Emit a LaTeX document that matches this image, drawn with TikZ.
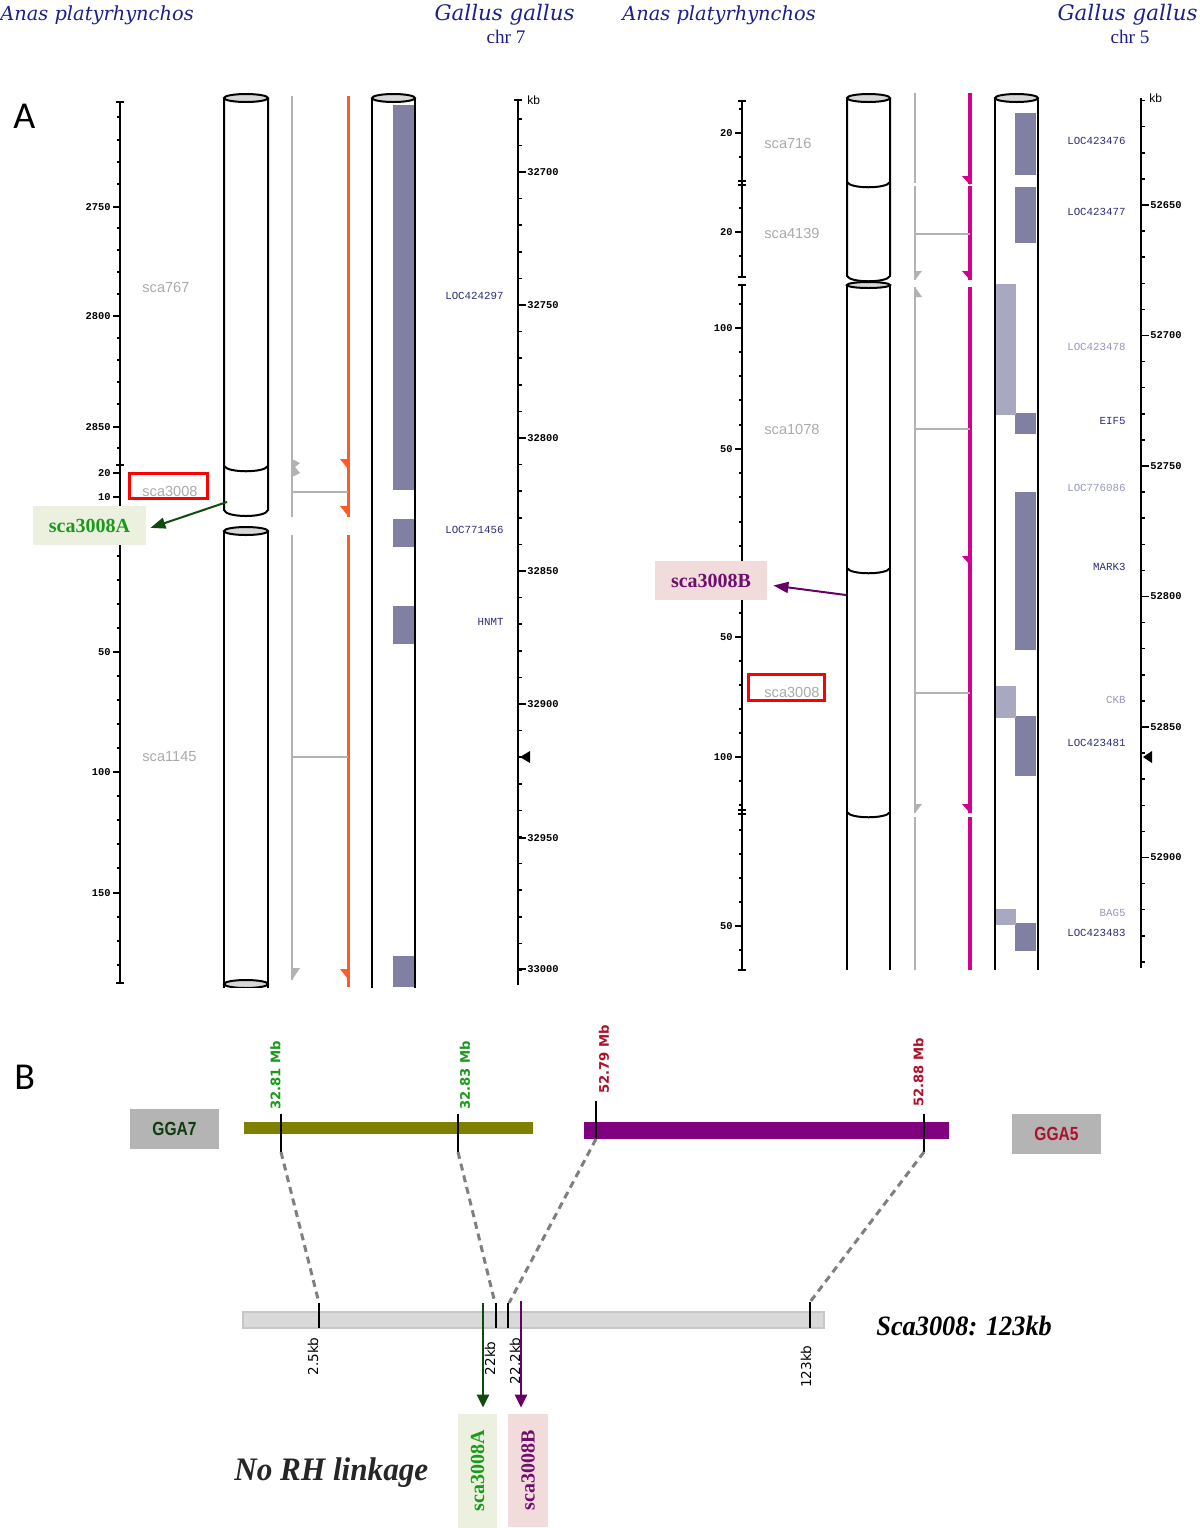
\documentclass[tikz,border=0pt]{standalone}
\usepackage{fontspec}
\setmainfont{Liberation Serif}
\setsansfont{Liberation Sans}
\setmonofont{Liberation Mono}
\newfontfamily\djserif{DejaVu Serif}
\newfontfamily\djsans{DejaVu Sans}
\newfontfamily\carlito{Carlito}
\usetikzlibrary{arrows.meta,calc}
\definecolor{navy}{RGB}{28,32,140}
\definecolor{genedark}{RGB}{45,45,120}
\definecolor{genelight}{RGB}{150,150,190}
\definecolor{filldark}{RGB}{128,128,162}
\definecolor{filllight}{RGB}{168,168,192}
\definecolor{orangeline}{RGB}{255,90,40}
\definecolor{magline}{RGB}{210,0,140}
\definecolor{grayline}{RGB}{178,178,178}
\definecolor{scagray}{RGB}{170,170,170}
\definecolor{capgray}{RGB}{215,215,215}
\definecolor{olivebar}{RGB}{128,128,0}
\definecolor{purplebar}{RGB}{128,0,128}
\definecolor{ggagray}{RGB}{180,180,180}
\definecolor{ggagreen}{RGB}{15,60,15}
\definecolor{crimson}{RGB}{176,16,42}
\definecolor{mbgreen}{RGB}{26,154,26}
\definecolor{boxgreen}{RGB}{235,241,222}
\definecolor{boxpink}{RGB}{242,220,219}
\definecolor{darkgreen}{RGB}{15,75,15}
\definecolor{darkpurple}{RGB}{102,0,102}
\definecolor{txtpurple}{RGB}{110,15,110}
\definecolor{dashgray}{RGB}{127,127,127}
\definecolor{scabar}{RGB}{217,217,217}
\begin{document}
\begin{tikzpicture}[x=0.5pt,y=-0.5pt,
  rul/.style={line width=0.75pt},
  cyl/.style={line width=1pt},
  rlab/.style={font=\ttfamily\bfseries\fontsize{5.2}{6}\selectfont,inner sep=0pt},
  glab/.style={font=\ttfamily\fontsize{5.4}{6}\selectfont,inner sep=0pt,anchor=east},
  slab/.style={font=\sffamily\fontsize{7.3}{8}\selectfont,text=scagray,inner sep=0pt,anchor=west},
  titleA/.style={font=\djserif\itshape\fontsize{9.7}{11}\selectfont,text=navy,inner sep=0pt},
  titleG/.style={font=\djserif\itshape\fontsize{10.7}{12}\selectfont,text=navy,inner sep=0pt},
  chrlab/.style={font=\fontsize{9.6}{11}\selectfont,text=navy,inner sep=0pt},
  panel/.style={font=\carlito\fontsize{19}{22}\selectfont,inner sep=0pt},
  redbox/.style={draw=red,line width=1.5pt},
  grayL/.style={grayline,line width=1.4pt},
  orL/.style={orangeline,line width=1.5pt},
  magL/.style={magline,line width=1.7pt},
  conn/.style={grayline,line width=0.8pt},
  lblbox/.style={font=\bfseries\fontsize{10}{12}\selectfont,minimum height=19.5pt,inner sep=0pt},
  gga/.style={fill=ggagray,minimum width=44.5pt,minimum height=20pt,inner sep=0pt,font=\sffamily\bfseries\fontsize{9.5}{11}\selectfont},
  mb/.style={font=\djsans\bfseries\fontsize{6.6}{8}\selectfont,inner sep=0pt,rotate=90,anchor=west},
  kbl/.style={font=\djsans\fontsize{6.8}{8}\selectfont,inner sep=0pt,rotate=90,anchor=east},
  dashc/.style={dashgray,line width=1.5pt,dash pattern=on 3.5pt off 2.5pt},
  tk/.style={line width=0.6pt}
]
\useasboundingbox (0,0) rectangle (1200,1528);

% ---------------- titles
\node[titleA,anchor=base west] (tA1) at (0,20) {Anas platyrhynchos};
\node[titleG,anchor=base east] (tG1) at (575,20) {Gallus gallus};
\node[chrlab,anchor=base] (c7) at (506,43) {chr 7};
\node[titleA,anchor=base west] (tA2) at (622,20) {Anas platyrhynchos};
\node[titleG,anchor=base east] (tG2) at (1198,20) {Gallus gallus};
\node[chrlab,anchor=base] (c5) at (1130,43) {chr 5};
\node[panel,anchor=base west] (pA) at (13,128) {A};

% ---------------- left duck ruler (chr7 side)
\draw[rul] (120,102) -- (120,983);
\foreach \y in {102,465,983} \draw[rul] (116,\y) -- (124,\y);
\foreach \y in {117,140,162,184,228,250,272,294,338,360,382,404,448,521,532,556,580,604,628,676,700,724,748,796,820,844,868,917,941,965}
  \draw[rul] (117,\y) -- (120,\y);
\foreach \y/\t [count=\i] in {207/2750,316/2800,427/2850,473/20,497/10,652/50,772/100,893/150}
  {\draw[rul] (113,\y) -- (120,\y); \node[rlab,anchor=east] (ra\i) at (111,\y) {\t};}

% ---------------- chr7 ruler
\draw[rul] (518,100) -- (518,985);
\draw[rul] (514,100) -- (522,100);
\foreach \k in {-2,...,30} \draw[rul] (518,{172+26.6*\k}) -- ++(4,0);
\foreach \y/\t [count=\i] in {172/32700,305/32750,438/32800,571/32850,704/32900,838/32950,969/33000}
  {\draw[rul] (518,\y) -- (526,\y); \node[rlab,anchor=west] (rb\i) at (527,\y) {\t};}
\node[font=\sffamily\fontsize{6}{7}\selectfont,anchor=west,inner sep=0pt] (kb1) at (527,100) {kb};
\fill (520,757) -- (530,751) -- (530,763) -- cycle;

% ---------------- chr7 chicken cylinder fills
\fill[filldark] (393,105) rectangle (414,490);
\fill[filldark] (393,519) rectangle (414,547);
\fill[filldark] (393,606) rectangle (414,644);
\fill[filldark] (393,956) rectangle (414,987);

% ---------------- cylinders left
\begin{scope}
\clip (200,0) rectangle (440,987);
\draw[cyl] (224,98) -- (224,510) .. controls (226,518) and (266,518) .. (268,510) -- (268,98);
\draw[cyl,fill=capgray] (246,98) ellipse [x radius=11pt, y radius=2pt];
\draw[cyl] (224,466) .. controls (228,473) and (264,473) .. (268,466);
\draw[cyl] (224,531) -- (224,990);
\draw[cyl] (268,531) -- (268,990);
\draw[cyl,fill=capgray] (246,531) ellipse [x radius=11pt, y radius=2pt];
\draw[cyl,fill=capgray] (246,984) ellipse [x radius=11pt, y radius=2pt];
\draw[cyl] (372,98) -- (372,990);
\draw[cyl] (415,98) -- (415,990);
\draw[cyl,fill=capgray] (393.5,98) ellipse [x radius=10.75pt, y radius=2pt];
\end{scope}

% ---------------- gray / orange lines (left)
\draw[grayL] (292,96) -- (292,517);
\draw[grayL] (292,535) -- (292,980);
\draw[orL] (348,96) -- (348,517);
\draw[orL] (348,535) -- (348,987);
\fill[grayline] (292,459) -- (300,463) -- (295,467) -- (300,473) -- (292,477) -- cycle;
\fill[grayline] (292,968) -- (300,968) -- (292,980) -- cycle;
\fill[orangeline] (348,459) -- (340,459) -- (348,469) -- cycle;
\fill[orangeline] (348,506) -- (340,506) -- (348,516) -- cycle;
\fill[orangeline] (348,969) -- (340,969) -- (348,979) -- cycle;
\draw[conn] (292,492) -- (348,492);
\draw[conn] (292,757) -- (348,757);

% ---------------- labels left
\node[glab,text=genedark] (g1) at (504,296) {LOC424297};
\node[glab,text=genedark] (g2) at (504,530) {LOC771456};
\node[glab,text=genedark] (g3) at (504,622) {HNMT};
\node[slab] (s1) at (142,287) {sca767};
\node[slab] (s2) at (142,491) {sca3008};
\node[slab] (s3) at (142,757) {sca1145};
\draw[redbox] (129,473) rectangle (207,498);
\node[lblbox,fill=boxgreen,text=mbgreen,minimum width=56.5pt] (labA) at (89.5,525.5) {sca3008A};
\coordinate (cA) at (227,502);
\draw[darkgreen,line width=1pt,-{Triangle[length=7.5pt,width=5.5pt]}] (cA) -- ([xshift=2pt,yshift=-1.2pt]labA.east);

% ---------------- right duck ruler (chr5 side)
\draw[rul] (742,101) -- (742,277);
\draw[rul] (742,285) -- (742,970);
\foreach \y in {101,181,185,277,285,810,814,970} \draw[rul] (738,\y) -- (746,\y);
\foreach \y in {109,157,208,256,304,352,376,400,425,473,497,522,546,571,589,613,661,685,709,733,781,805,830,854,878,902,950}
  \draw[rul] (739,\y) -- (742,\y);
\foreach \y/\t [count=\i] in {133/20,232/20,328/100,449/50,637/50,757/100,926/50}
  {\draw[rul] (735,\y) -- (742,\y); \node[rlab,anchor=east] (rc\i) at (733,\y) {\t};}

% ---------------- chr5 ruler
\draw[rul] (1141,98) -- (1141,968);
\foreach \k in {-4,...,29} \draw[rul] (1141,{205+26.1*\k}) -- ++(4,0);
\foreach \y/\t [count=\i] in {205/52650,335.5/52700,466/52750,596.5/52800,727/52850,857.5/52900}
  {\draw[rul] (1141,\y) -- (1149,\y); \node[rlab,anchor=west] (rd\i) at (1150,\y) {\t};}
\node[font=\sffamily\fontsize{6}{7}\selectfont,anchor=west,inner sep=0pt] (kb2) at (1149,98) {kb};
\fill (1143,757) -- (1152,751) -- (1152,763) -- cycle;

% ---------------- chr5 chicken fills
\foreach \a/\b in {113/175,187/243,413/434,492/650,716/776,923/951}
  \fill[filldark] (1015,\a) rectangle (1036,\b);
\foreach \a/\b in {284/415,686/718,909/925}
  \fill[filllight] (996,\a) rectangle (1016,\b);

% ---------------- cylinders right
\draw[cyl] (847,98) -- (847,276) .. controls (850,283) and (887,283) .. (890,276) -- (890,98);
\draw[cyl,fill=capgray] (868.5,98) ellipse [x radius=10.75pt, y radius=2pt];
\draw[cyl] (847,182) .. controls (850,189) and (887,189) .. (890,182);
\draw[cyl] (847,285) -- (847,970);
\draw[cyl] (890,285) -- (890,970);
\draw[cyl,fill=capgray] (868.5,285) ellipse [x radius=10.75pt, y radius=1.5pt];
\draw[cyl] (847,568) .. controls (850,575) and (887,575) .. (890,568);
\draw[cyl] (847,812) .. controls (850,819) and (887,819) .. (890,812);
\draw[cyl] (995,98) -- (995,970);
\draw[cyl] (1038,98) -- (1038,970);
\draw[cyl,fill=capgray] (1016.5,98) ellipse [x radius=10.75pt, y radius=2pt];

% ---------------- gray / magenta lines (right)
\draw[grayL] (915,93) -- (915,183);
\draw[grayL] (915,186) -- (915,280);
\draw[grayL] (915,287) -- (915,813);
\draw[grayL] (915,817) -- (915,970);
\fill[grayline] (915,271) -- (922,271) -- (915,280) -- cycle;
\fill[grayline] (915,287) -- (922,297) -- (915,297) -- cycle;
\fill[grayline] (915,804) -- (922,804) -- (915,813) -- cycle;
\draw[magL] (970,93) -- (970,184);
\draw[magL] (970,186) -- (970,280);
\draw[magL] (970,287) -- (970,813);
\draw[magL] (970,817) -- (970,970);
\foreach \y in {176,271,556,804}
  \fill[magline] (970,\y) -- (962,\y) -- (970,\y+9) -- cycle;
\foreach \y in {234,429,693} \draw[conn] (915,\y) -- (970,\y);

% ---------------- labels right
\node[glab,text=genedark] (h1) at (1126,141) {LOC423476};
\node[glab,text=genedark] (h2) at (1126,212) {LOC423477};
\node[glab,text=genelight] (h3) at (1126,347) {LOC423478};
\node[glab,text=genedark] (h4) at (1126,421) {EIF5};
\node[glab,text=genelight] (h5) at (1126,488) {LOC776086};
\node[glab,text=genedark] (h6) at (1126,567) {MARK3};
\node[glab,text=genelight] (h7) at (1126,700) {CKB};
\node[glab,text=genedark] (h8) at (1126,743) {LOC423481};
\node[glab,text=genelight] (h9) at (1126,913) {BAG5};
\node[glab,text=genedark] (h10) at (1126,933) {LOC423483};
\node[slab] (s4) at (764,143) {sca716};
\node[slab] (s5) at (764,233) {sca4139};
\node[slab] (s6) at (764,429) {sca1078};
\node[slab] (s7) at (764,692) {sca3008};
\draw[redbox] (748,674) rectangle (824,700);
\node[lblbox,fill=boxpink,text=txtpurple,minimum width=56pt] (labB) at (711,580.5) {sca3008B};
\coordinate (cB) at (846,595);
\draw[darkpurple,line width=1pt,-{Triangle[length=7.5pt,width=5.5pt]}] (cB) -- ([xshift=3pt,yshift=-2.5pt]labB.east);

% ================= panel B
\node[panel,anchor=base west] (pB) at (14,1089) {B};
\node[gga,text=ggagreen] (g7) at (174.5,1129) {\scalebox{0.82}[1]{GGA7}};
\node[gga,text=crimson] (g5) at (1056.5,1134) {\scalebox{0.82}[1]{GGA5}};
\fill[olivebar] (244,1122) rectangle (533,1134);
\fill[purplebar] (584,1122) rectangle (949,1139);
\draw[tk] (281,1114) -- (281,1152);
\draw[tk] (458,1114) -- (458,1152);
\draw[tk] (596,1101) -- (596,1139);
\draw[tk] (924,1114) -- (924,1152);
\coordinate (t1) at (281,1152);
\coordinate (t2) at (458,1152);
\coordinate (t3) at (596,1139);
\coordinate (t4) at (924,1152);
\node[mb,text=mbgreen] (m1) at (275.5,1110) {32.81 Mb};
\node[mb,text=mbgreen] (m2) at (465,1110) {32.83 Mb};
\node[mb,text=crimson] (m3) at (604,1094) {52.79 Mb};
\node[mb,text=crimson] (m4) at (918.5,1107) {52.88 Mb};

\filldraw[fill=scabar,draw=black!22,line width=0.6pt] (243,1312) rectangle (824,1328);
\draw[tk] (319,1303) -- (319,1328);
\draw[tk] (496,1303) -- (496,1328);
\draw[tk] (508,1303) -- (508,1328);
\draw[tk] (810,1302) -- (810,1328);
\coordinate (b1) at (319,1303);
\coordinate (b2) at (495,1303);
\coordinate (b3) at (509,1303);
\coordinate (b4) at (810,1302);
\draw[dashc] (t1) -- (b1);
\draw[dashc] (t2) -- (b2);
\draw[dashc] (t3) -- (b3);
\draw[dashc] (t4) -- (b4);
\node[kbl] (k1) at (313,1337) {2.5kb};
\node[kbl] (k2) at (490,1341) {22kb};
\node[kbl] (k3) at (515,1337) {22.2kb};
\node[kbl] (k4) at (806,1345) {123kb};

\node[lblbox,rotate=90,fill=boxgreen,text=mbgreen,minimum width=57pt] (vA) at (477.5,1471) {sca3008A};
\node[lblbox,rotate=90,fill=boxpink,text=txtpurple,minimum width=56.5pt,minimum height=20pt] (vB) at (528,1470.5) {sca3008B};
\coordinate (aA) at (483,1303);
\coordinate (aB) at (521,1301);
\draw[darkgreen,line width=1.2pt,-{Triangle[length=6.5pt,width=6pt]}] (aA) -- ([xshift=2.75pt,yshift=3pt]vA.east);
\draw[darkpurple,line width=1.2pt,-{Triangle[length=6.5pt,width=6pt]}] (aB) -- ([xshift=-3.5pt,yshift=3pt]vB.east);

\node[font=\bfseries\itshape\fontsize{14}{16}\selectfont,anchor=base west,xscale=0.94,inner sep=0pt] (scaT) at (876,1335) {Sca3008: 123kb};
\node[font=\bfseries\itshape\fontsize{16.4}{18}\selectfont,text=black!85,anchor=base west,xscale=0.95,inner sep=0pt] (noRH) at (234,1480) {No RH linkage};
\end{tikzpicture}
\end{document}
